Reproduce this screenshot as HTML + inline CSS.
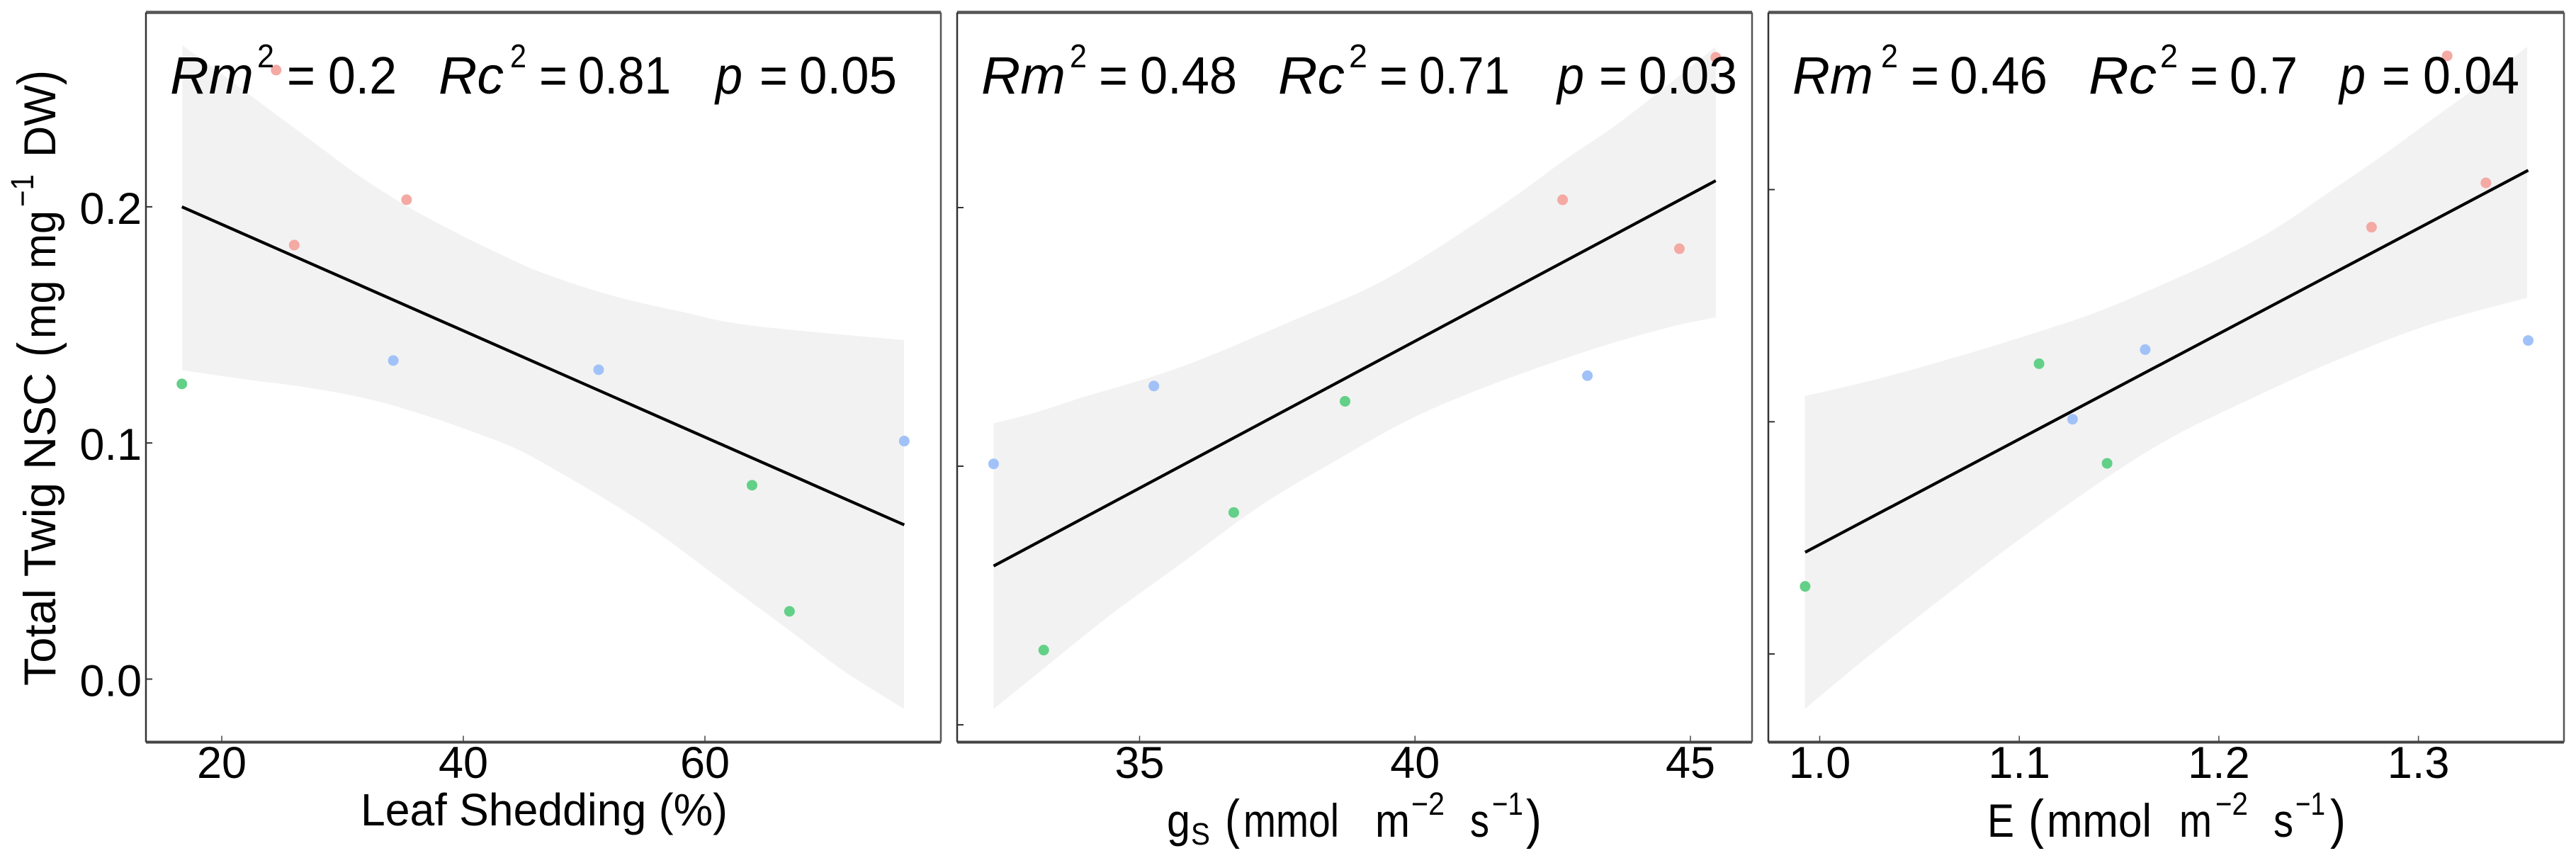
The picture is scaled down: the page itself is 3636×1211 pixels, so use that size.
<!DOCTYPE html>
<html lang="en">
<head>
<meta charset="utf-8">
<title>Total Twig NSC regressions</title>
<style>
  html, body { margin: 0; padding: 0; background: #fff; }
  svg { display: block; }
  text { font-family: "Liberation Sans", sans-serif; fill: #000; }
  .tick { font-size: 63px; }
  .stat { font-size: 74px; }
  .stat-i { font-size: 74px; font-style: italic; }
  .sup { font-size: 46px; }
  .ax { font-size: 66px; }
  .axsup { font-size: 45px; }
  .paren { font-size: 76px; }
</style>
</head>
<body>
<svg id="chart" xmlns="http://www.w3.org/2000/svg" width="3636" height="1211" viewBox="0 0 3636 1211">
  <rect width="3636" height="1211" fill="#fff"/>
  <g id="marks"></g>

  <g>
    <text transform="translate(78,968) rotate(-90)" font-size="63" textLength="442" lengthAdjust="spacingAndGlyphs">Total Twig NSC</text>
    <text class="paren" transform="translate(78,504) rotate(-90)" textLength="21" lengthAdjust="spacingAndGlyphs">(</text>
    <text transform="translate(78,478) rotate(-90)" font-size="63" textLength="181" lengthAdjust="spacingAndGlyphs">mg mg</text>
    <text transform="translate(47,292) rotate(-90)" font-size="45" textLength="46" lengthAdjust="spacingAndGlyphs">−1</text>
    <text transform="translate(78,222) rotate(-90)" font-size="63" textLength="102" lengthAdjust="spacingAndGlyphs">DW</text>
    <text class="paren" transform="translate(78,120) rotate(-90)" textLength="21" lengthAdjust="spacingAndGlyphs">)</text>
  </g>

  <g>
    <text class="stat-i" x="240" y="132" textLength="118" lengthAdjust="spacingAndGlyphs">Rm</text>
    <text class="sup" x="363" y="95" textLength="24" lengthAdjust="spacingAndGlyphs">2</text>
    <text class="stat" x="405" y="132" textLength="40" lengthAdjust="spacingAndGlyphs">=</text>
    <text class="stat" x="463" y="132" textLength="97" lengthAdjust="spacingAndGlyphs">0.2</text>
    <text class="stat-i" x="619" y="132" textLength="92" lengthAdjust="spacingAndGlyphs">Rc</text>
    <text class="sup" x="720" y="95" textLength="23" lengthAdjust="spacingAndGlyphs">2</text>
    <text class="stat" x="761" y="132" textLength="40" lengthAdjust="spacingAndGlyphs">=</text>
    <text class="stat" x="816" y="132" textLength="131" lengthAdjust="spacingAndGlyphs">0.81</text>
    <text class="stat-i" x="1010" y="132" textLength="38" lengthAdjust="spacingAndGlyphs">p</text>
    <text class="stat" x="1072" y="132" textLength="40" lengthAdjust="spacingAndGlyphs">=</text>
    <text class="stat" x="1128" y="132" textLength="138" lengthAdjust="spacingAndGlyphs">0.05</text>
  </g>
  <g>
    <text class="stat-i" x="1385" y="132" textLength="119" lengthAdjust="spacingAndGlyphs">Rm</text>
    <text class="sup" x="1510" y="95" textLength="24" lengthAdjust="spacingAndGlyphs">2</text>
    <text class="stat" x="1551" y="132" textLength="41" lengthAdjust="spacingAndGlyphs">=</text>
    <text class="stat" x="1609" y="132" textLength="137" lengthAdjust="spacingAndGlyphs">0.48</text>
    <text class="stat-i" x="1804" y="132" textLength="94" lengthAdjust="spacingAndGlyphs">Rc</text>
    <text class="sup" x="1904" y="95" textLength="26" lengthAdjust="spacingAndGlyphs">2</text>
    <text class="stat" x="1947" y="132" textLength="40" lengthAdjust="spacingAndGlyphs">=</text>
    <text class="stat" x="2003" y="132" textLength="128" lengthAdjust="spacingAndGlyphs">0.71</text>
    <text class="stat-i" x="2198" y="132" textLength="38" lengthAdjust="spacingAndGlyphs">p</text>
    <text class="stat" x="2257" y="132" textLength="40" lengthAdjust="spacingAndGlyphs">=</text>
    <text class="stat" x="2313" y="132" textLength="139" lengthAdjust="spacingAndGlyphs">0.03</text>
  </g>
  <g>
    <text class="stat-i" x="2530" y="132" textLength="114" lengthAdjust="spacingAndGlyphs">Rm</text>
    <text class="sup" x="2655" y="95" textLength="24" lengthAdjust="spacingAndGlyphs">2</text>
    <text class="stat" x="2697" y="132" textLength="40" lengthAdjust="spacingAndGlyphs">=</text>
    <text class="stat" x="2752" y="132" textLength="138" lengthAdjust="spacingAndGlyphs">0.46</text>
    <text class="stat-i" x="2948" y="132" textLength="96" lengthAdjust="spacingAndGlyphs">Rc</text>
    <text class="sup" x="3049" y="95" textLength="25" lengthAdjust="spacingAndGlyphs">2</text>
    <text class="stat" x="3091" y="132" textLength="40" lengthAdjust="spacingAndGlyphs">=</text>
    <text class="stat" x="3147" y="132" textLength="96" lengthAdjust="spacingAndGlyphs">0.7</text>
    <text class="stat-i" x="3302" y="132" textLength="37" lengthAdjust="spacingAndGlyphs">p</text>
    <text class="stat" x="3362" y="132" textLength="40" lengthAdjust="spacingAndGlyphs">=</text>
    <text class="stat" x="3420" y="132" textLength="136" lengthAdjust="spacingAndGlyphs">0.04</text>
  </g>

  <text font-size="64" x="509" y="1165" textLength="518" lengthAdjust="spacingAndGlyphs">Leaf Shedding (%)</text>

  <g>
    <text class="ax" x="1647" y="1181" textLength="33" lengthAdjust="spacingAndGlyphs">g</text>
    <text font-size="44" x="1681" y="1192" textLength="27" lengthAdjust="spacingAndGlyphs">S</text>
    <text class="paren" x="1729" y="1182" textLength="21" lengthAdjust="spacingAndGlyphs">(</text>
    <text class="ax" x="1755" y="1181" textLength="135" lengthAdjust="spacingAndGlyphs">mmol</text>
    <text class="ax" x="1941" y="1181" textLength="49" lengthAdjust="spacingAndGlyphs">m</text>
    <text class="axsup" x="1992" y="1150" textLength="47" lengthAdjust="spacingAndGlyphs">−2</text>
    <text class="ax" x="2075" y="1181" textLength="27" lengthAdjust="spacingAndGlyphs">s</text>
    <text class="axsup" x="2106" y="1150" textLength="44" lengthAdjust="spacingAndGlyphs">−1</text>
    <text class="paren" x="2154" y="1182" textLength="22" lengthAdjust="spacingAndGlyphs">)</text>
  </g>

  <g>
    <text class="ax" x="2805" y="1181" textLength="38" lengthAdjust="spacingAndGlyphs">E</text>
    <text class="paren" x="2863" y="1182" textLength="22" lengthAdjust="spacingAndGlyphs">(</text>
    <text class="ax" x="2889" y="1181" textLength="148" lengthAdjust="spacingAndGlyphs">mmol</text>
    <text class="ax" x="3076" y="1181" textLength="46" lengthAdjust="spacingAndGlyphs">m</text>
    <text class="axsup" x="3127" y="1150" textLength="46" lengthAdjust="spacingAndGlyphs">−2</text>
    <text class="ax" x="3209" y="1181" textLength="28" lengthAdjust="spacingAndGlyphs">s</text>
    <text class="axsup" x="3240" y="1150" textLength="42" lengthAdjust="spacingAndGlyphs">−1</text>
    <text class="paren" x="3289" y="1182" textLength="22" lengthAdjust="spacingAndGlyphs">)</text>
  </g>
</svg>

<script>
// ---------- data ----------
const pointGroups = ["high", "high", "high", "mid", "mid", "mid", "low", "low", "low"];

const leafX = [24.5, 35.3, 26.0, 34.2, 51.2, 76.5, 16.7, 63.9, 67.0];
const leafY = [0.2579, 0.2030, 0.1838, 0.1349, 0.1310, 0.1008, 0.1250, 0.0821, 0.0287];
const leafFitX = [16.7, 76.5];
const leafFitY = [0.2000, 0.0653];
const leafUpperX = [16.73, 19.51, 23.36, 27.21, 31.07, 34.92, 38.77, 42.63, 46.48, 52.26, 58.04, 63.82, 76.48];
const leafUpperY = [0.2684, 0.2581, 0.2434, 0.2288, 0.2142, 0.2015, 0.1907, 0.1810, 0.1722, 0.1625, 0.1556, 0.1497, 0.1436];
const leafLowerX = [16.73, 21.43, 27.21, 32.22, 36.84, 40.70, 44.55, 48.40, 52.26, 56.11, 59.96, 63.82, 67.68, 71.53, 76.48];
const leafLowerY = [0.1308, 0.1273, 0.1234, 0.1185, 0.1117, 0.1049, 0.0971, 0.0863, 0.0746, 0.0619, 0.0473, 0.0326, 0.0180, 0.0033, -0.0126];
const leafTicksX = [20, 40, 60];
const leafTickLabelsX = ["20", "40", "60"];

const gsX = [45.46, 42.68, 44.80, 35.26, 43.13, 32.35, 38.73, 36.71, 33.26];
const gsY = [0.2581, 0.2030, 0.1841, 0.1310, 0.1350, 0.1009, 0.1251, 0.0821, 0.0289];
const gsFitX = [32.35, 45.46];
const gsFitY = [0.0614, 0.2104];
const gsUpperX = [32.35, 33.07, 33.99, 35.26, 36.29, 37.67, 39.05, 39.97, 40.89, 41.81, 42.73, 43.65, 44.57, 45.46];
const gsUpperY = [0.1166, 0.1205, 0.1268, 0.1348, 0.1428, 0.1553, 0.1678, 0.1785, 0.1910, 0.2043, 0.2186, 0.2319, 0.2471, 0.2622];
const gsLowerX = [32.35, 33.25, 34.45, 35.83, 37.21, 38.68, 39.97, 41.35, 43.13, 44.57, 45.46];
const gsLowerY = [0.0061, 0.0216, 0.0421, 0.0635, 0.0849, 0.1036, 0.1188, 0.1312, 0.1446, 0.1535, 0.1576];
const gsTicksX = [35, 40, 45];
const gsTickLabelsX = ["35", "40", "45"];

const eX = [1.3144, 1.3338, 1.2765, 1.1631, 1.1267, 1.3550, 1.1099, 1.1440, 0.9927];
const eY = [0.2576, 0.2029, 0.1838, 0.1311, 0.1011, 0.1350, 0.1250, 0.0821, 0.0291];
const eFitX = [0.9927, 1.3550];
const eFitY = [0.0438, 0.2083];
const eUpperX = [0.9925, 1.0251, 1.0632, 1.1013, 1.1394, 1.1775, 1.2029, 1.2283, 1.2537, 1.2791, 1.3045, 1.3299, 1.3545];
const eUpperY = [0.1111, 0.1176, 0.1266, 0.1365, 0.1474, 0.1613, 0.1713, 0.1832, 0.1980, 0.2129, 0.2288, 0.2447, 0.2616];
const eLowerX = [0.9925, 1.0251, 1.0632, 1.1013, 1.1440, 1.1775, 1.2156, 1.2537, 1.3045, 1.3545];
const eLowerY = [-0.0237, -0.0005, 0.0253, 0.0501, 0.0760, 0.0938, 0.1097, 0.1246, 0.1415, 0.1534];
const eTicksX = [1.0, 1.1, 1.2, 1.3];
const eTickLabelsX = ["1.0", "1.1", "1.2", "1.3"];

const yTicks = [0.0, 0.1, 0.2];
const yTickLabels = ["0.0", "0.1", "0.2"];

// ---------- axis functions ----------
const linear = (v0, p0, pxPerUnit) => v => p0 + (v - v0) * pxPerUnit;

const leafPanel = {
  name: "leaf", left: 206, right: 1328, showLabels: true,
  sx: linear(20, 313, 17.05), sy: linear(0, 958.5, -3333),
  x: leafX, y: leafY, fitX: leafFitX, fitY: leafFitY,
  upX: leafUpperX, upY: leafUpperY, loX: leafLowerX, loY: leafLowerY,
  ticks: leafTicksX, labels: leafTickLabelsX
};
const gsPanel = {
  name: "gs", left: 1351, right: 2473, showLabels: false,
  sx: linear(35, 1608.5, 77.75), sy: linear(0, 1023, -3650),
  x: gsX, y: gsY, fitX: gsFitX, fitY: gsFitY,
  upX: gsUpperX, upY: gsUpperY, loX: gsLowerX, loY: gsLowerY,
  ticks: gsTicksX, labels: gsTickLabelsX
};
const ePanel = {
  name: "e", left: 2496, right: 3619, showLabels: false,
  sx: linear(1.0, 2568.5, 2817), sy: linear(0, 923, -3277),
  x: eX, y: eY, fitX: eFitX, fitY: eFitY,
  upX: eUpperX, upY: eUpperY, loX: eLowerX, loY: eLowerY,
  ticks: eTicksX, labels: eTickLabelsX
};

const groupColors = { high: "#f4a9a3", mid: "#a0c2f8", low: "#63d088" };
const PLOT_TOP = 17.5, PLOT_BOTTOM = 1047.5;
const NS = "http://www.w3.org/2000/svg";
const marks = document.getElementById("marks");

function make(tag, attrs, parent) {
  const el = document.createElementNS(NS, tag);
  for (const k in attrs) el.setAttribute(k, attrs[k]);
  parent.appendChild(el);
  return el;
}

// Catmull-Rom smoothing through the screen points (segments only, no leading move)
function smooth(pts) {
  let d = "";
  for (let i = 0; i < pts.length - 1; i++) {
    const p0 = pts[Math.max(i - 1, 0)], p1 = pts[i], p2 = pts[i + 1], p3 = pts[Math.min(i + 2, pts.length - 1)];
    const c1x = p1[0] + (p2[0] - p0[0]) / 6, c1y = p1[1] + (p2[1] - p0[1]) / 6;
    const c2x = p2[0] - (p3[0] - p1[0]) / 6, c2y = p2[1] - (p3[1] - p1[1]) / 6;
    d += " C" + c1x.toFixed(1) + " " + c1y.toFixed(1) + " " + c2x.toFixed(1) + " " + c2y.toFixed(1) + " " + p2[0].toFixed(1) + " " + p2[1].toFixed(1);
  }
  return d;
}

function drawPanel(p) {
  const g = make("g", {}, marks);
  
  

  // confidence band
  const top = p.upX.map((v, i) => [p.sx(v), p.sy(p.upY[i])]);
  const bot = p.loX.map((v, i) => [p.sx(v), p.sy(p.loY[i])]).reverse();
  const d = "M" + top[0][0].toFixed(1) + " " + top[0][1].toFixed(1) + smooth(top) +
            " L" + bot[0][0].toFixed(1) + " " + bot[0][1].toFixed(1) + smooth(bot) + " Z";
  const band = make("path", { d: d, fill: "#f2f2f2" }, g);
  
  

  // points
  p.x.forEach((v, i) => {
    const c = make("circle", { cx: p.sx(v), cy: p.sy(p.y[i]), r: 7.5, fill: groupColors[pointGroups[i]] }, g);
    
    
  });

  // fit line
  const line = make("line", {
    x1: p.sx(p.fitX[0]), y1: p.sy(p.fitY[0]),
    x2: p.sx(p.fitX[1]), y2: p.sy(p.fitY[1]),
    stroke: "#000", "stroke-width": 4.2
  }, g);
  
  

  // frame
  const frame = [
    [p.left, PLOT_TOP, p.right, PLOT_TOP, 4.5, "#555", "frame-top"],
    [p.left, PLOT_BOTTOM, p.right, PLOT_BOTTOM, 4, "#444", "frame-bottom"],
    [p.left, PLOT_TOP, p.left, PLOT_BOTTOM, 2.5, "#333", "frame-left"],
    [p.right, PLOT_TOP, p.right, PLOT_BOTTOM, 2.5, "#555", "frame-right"]
  ];
  frame.forEach(f => {
    const l = make("line", { x1: f[0], y1: f[1], x2: f[2], y2: f[3], "stroke-width": f[4], stroke: f[5] }, g);
    
    
  });

  // x ticks
  p.ticks.forEach((v, i) => {
    const x = p.sx(v);
    const t = make("line", { x1: x, y1: PLOT_BOTTOM - 9, x2: x, y2: PLOT_BOTTOM, stroke: "#444", "stroke-width": 1.5 }, g);
    
    
    const lab = make("text", { x: x, y: 1098, "text-anchor": "middle", class: "tick" }, g);
    
    
    lab.textContent = p.labels[i];
  });

  // y ticks
  yTicks.forEach((v, i) => {
    const y = p.sy(v);
    const t = make("line", { x1: p.left, y1: y, x2: p.left + 9, y2: y, stroke: "#333", "stroke-width": 2 }, g);
    
    
    if (p.showLabels) {
      const lab = make("text", { x: 200, y: y + 24, "text-anchor": "end", class: "tick" }, g);
      
      
      lab.textContent = yTickLabels[i];
    }
  });
}

drawPanel(leafPanel);
drawPanel(gsPanel);
drawPanel(ePanel);
</script>
</body>
</html>
